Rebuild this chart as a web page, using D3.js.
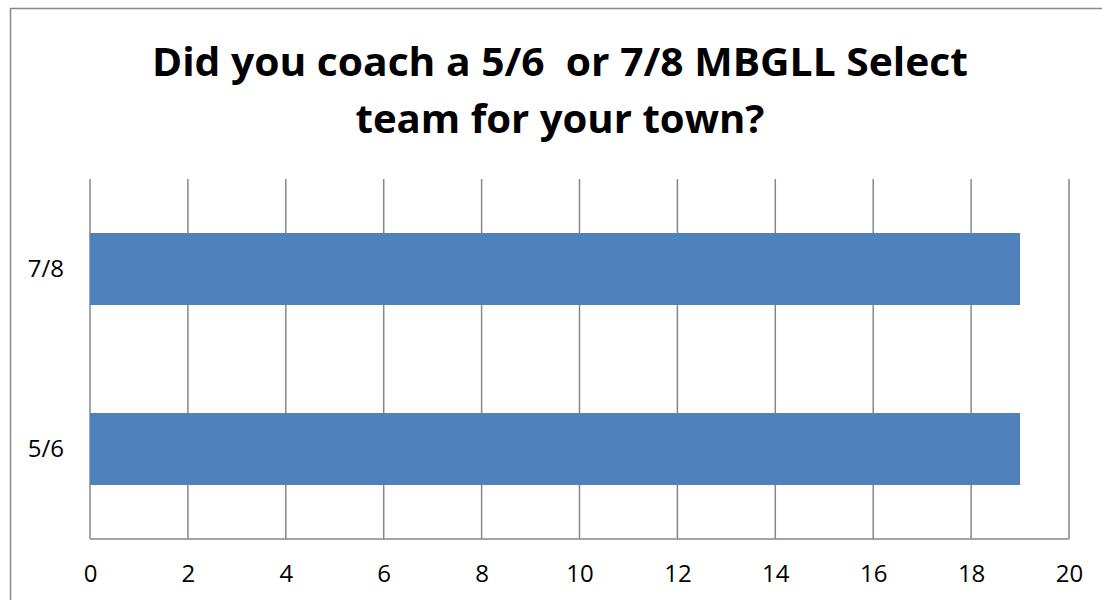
<!DOCTYPE html>
<html><head><meta charset="utf-8">
<script src="https://cdn.jsdelivr.net/npm/d3@7"></script>
<style>html,body{margin:0;padding:0;background:#fff;overflow:hidden}</style>
</head><body>
<svg id="c" width="1102" height="600"></svg>
<script>
const categories = ["7/8", "5/6"];
const values = [19, 19];
const xTicks = [0, 2, 4, 6, 8, 10, 12, 14, 16, 18, 20];
const titleLines = ["Did you coach a 5/6\u00a0 or 7/8 MBGLL Select", "team for your town?"];

(function () {
const svg = d3.select("#c");
const pLeft = 90, pRight = 1069, pTop = 179, pBottom = 539;
const font = "'Open Sans', 'Liberation Sans', sans-serif";

svg.append("rect").attr("x", 10.5).attr("y", 8.5).attr("width", 1200).attr("height", 700)
  .attr("fill", "#fff").attr("stroke", "#898989").attr("stroke-width", 1.5);

const x = d3.scaleLinear().domain([0, 20]).range([pLeft, pRight]);
const y = d3.scaleBand().domain(categories).range([pTop, pBottom]).paddingInner(0.6).paddingOuter(0.3);

// gridlines
svg.append("g").selectAll("line").data(xTicks).join("line")
  .attr("x1", d => x(d)).attr("x2", d => x(d)).attr("y1", pTop).attr("y2", pBottom)
  .attr("stroke", "#878787").attr("stroke-width", 1.5);
svg.append("line").attr("x1", pLeft).attr("x2", pRight).attr("y1", pBottom).attr("y2", pBottom)
  .attr("stroke", "#878787").attr("stroke-width", 1.5);

// bars
svg.append("g").selectAll("rect").data(categories).join("rect")
  .attr("x", x(0)).attr("y", d => y(d))
  .attr("width", (d, i) => x(values[i]) - x(0)).attr("height", y.bandwidth())
  .attr("fill", "#4F81BD");

// x axis labels
const xAxis = d3.axisBottom(x).tickValues(xTicks).tickSize(0).tickPadding(0).tickFormat(d3.format("d"));
const gx = svg.append("g").attr("transform", `translate(0,582)`).call(xAxis);
gx.select(".domain").remove();
gx.selectAll("text").attr("font-family", font).attr("font-size", 24).attr("fill", "#000").attr("dy", "0").attr("y", 0);

// y axis labels
const yAxis = d3.axisLeft(y).tickSize(0).tickPadding(0);
const gy = svg.append("g").attr("transform", `translate(${pLeft - 26},0)`).call(yAxis);
gy.select(".domain").remove();
gy.selectAll("text").attr("font-family", font).attr("font-size", 24).attr("fill", "#000").attr("dy", "0.35em");

// title
svg.append("g").selectAll("text").data(titleLines).join("text")
  .attr("x", 560).attr("y", (d, i) => 76 + i * 57)
  .attr("text-anchor", "middle").attr("font-family", font).attr("font-weight", "bold")
  .attr("font-size", 40).attr("fill", "#000")
  .attr("textLength", (d, i) => i === 0 ? 816 : 409).attr("lengthAdjust", "spacingAndGlyphs")
  .text(d => d);
})();
</script>
</body></html>
